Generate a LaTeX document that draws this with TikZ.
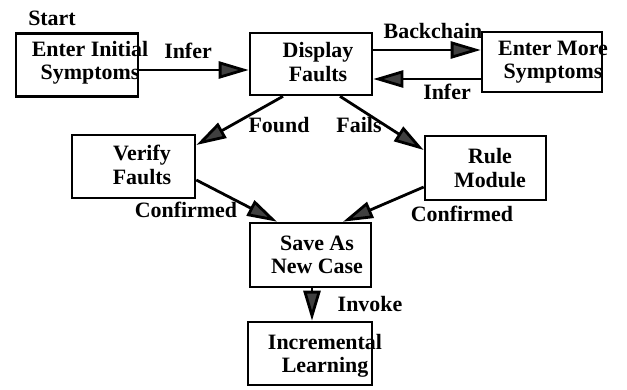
\documentclass[tikz,border=0pt]{standalone}
\usepackage{fontspec}
\setmainfont{Liberation Serif}[BoldFont={Liberation Serif Bold}]
\usetikzlibrary{arrows.meta}
\tikzset{
  box/.style={draw, line width=2.6bp, minimum width=#1, inner sep=0pt},
  box/.default=122bp,
  txt/.style={font=\bfseries\fontsize{22}{23.5}\selectfont, align=center, inner sep=0pt},
  link/.style={line width=2.8bp, -{Triangle[length=30bp,width=17bp,fill=black!75]}},
}
\begin{document}
\begin{tikzpicture}[x=1bp, y=-1bp]
  \useasboundingbox (0,0) rectangle (627,389);

  % boxes
  \node[box=122bp, minimum height=63bp] (init) at (77,65) {};
  \node[box=122bp, minimum height=62bp] (disp) at (311,64) {};
  \node[box=120bp, minimum height=60bp] (more) at (542,62) {};
  \node[box=123bp, minimum height=63bp] (verify) at (133.5,166.5) {};
  \node[box=121bp, minimum height=64bp] (rule) at (485.5,168) {};
  \node[box=121bp, minimum height=64bp] (save) at (310.5,255) {};
  \node[box=124bp, minimum height=63bp] (learn) at (310,353.5) {};

  % box texts
  \node[txt] at (90,63) {Enter Initial\\Symptoms};
  \node[txt] at (318,62) {Display\\Faults};
  \node[txt] at (553,62) {Enter More\\Symptoms};
  \node[txt] at (142,165) {Verify\\Faults};
  \node[txt] at (490,168) {Rule\\Module};
  \node[txt] at (317,255) {Save As\\New Case};
  \node[txt] at (325,356) {Incremental\\Learning};

  % connectors
  \draw[link] (init.east |- 0,70) -- (disp.west |- 0,70);
  \draw[link] (disp.east |- 0,50) -- (more.west |- 0,50);
  \draw[link] (more.west |- 0,79) -- (disp.east |- 0,79);
  \draw[link] (disp.south -| 283,0) -- (verify.east |- 0,145);
  \draw[link] (disp.south -| 340,0) -- (rule.west |- 0,150);
  \draw[link] (verify.east |- 0,180) -- (save.north -| 277,0);
  \draw[link] (rule.west |- 0,187) -- (save.north -| 343,0);
  \draw[link] (save.south -| 312,0) -- (learn.north -| 312,0);

  % labels
  \node[txt] at (52,18) {Start};
  \node[txt] at (188,51) {Infer};
  \node[txt] at (433,31) {Backchain};
  \node[txt] at (447,92) {Infer};
  \node[txt] at (279,125) {Found};
  \node[txt] at (359,125) {Fails};
  \node[txt] at (186,210) {Confirmed};
  \node[txt] at (462,214) {Confirmed};
  \node[txt] at (370,304) {Invoke};
\end{tikzpicture}
\end{document}
